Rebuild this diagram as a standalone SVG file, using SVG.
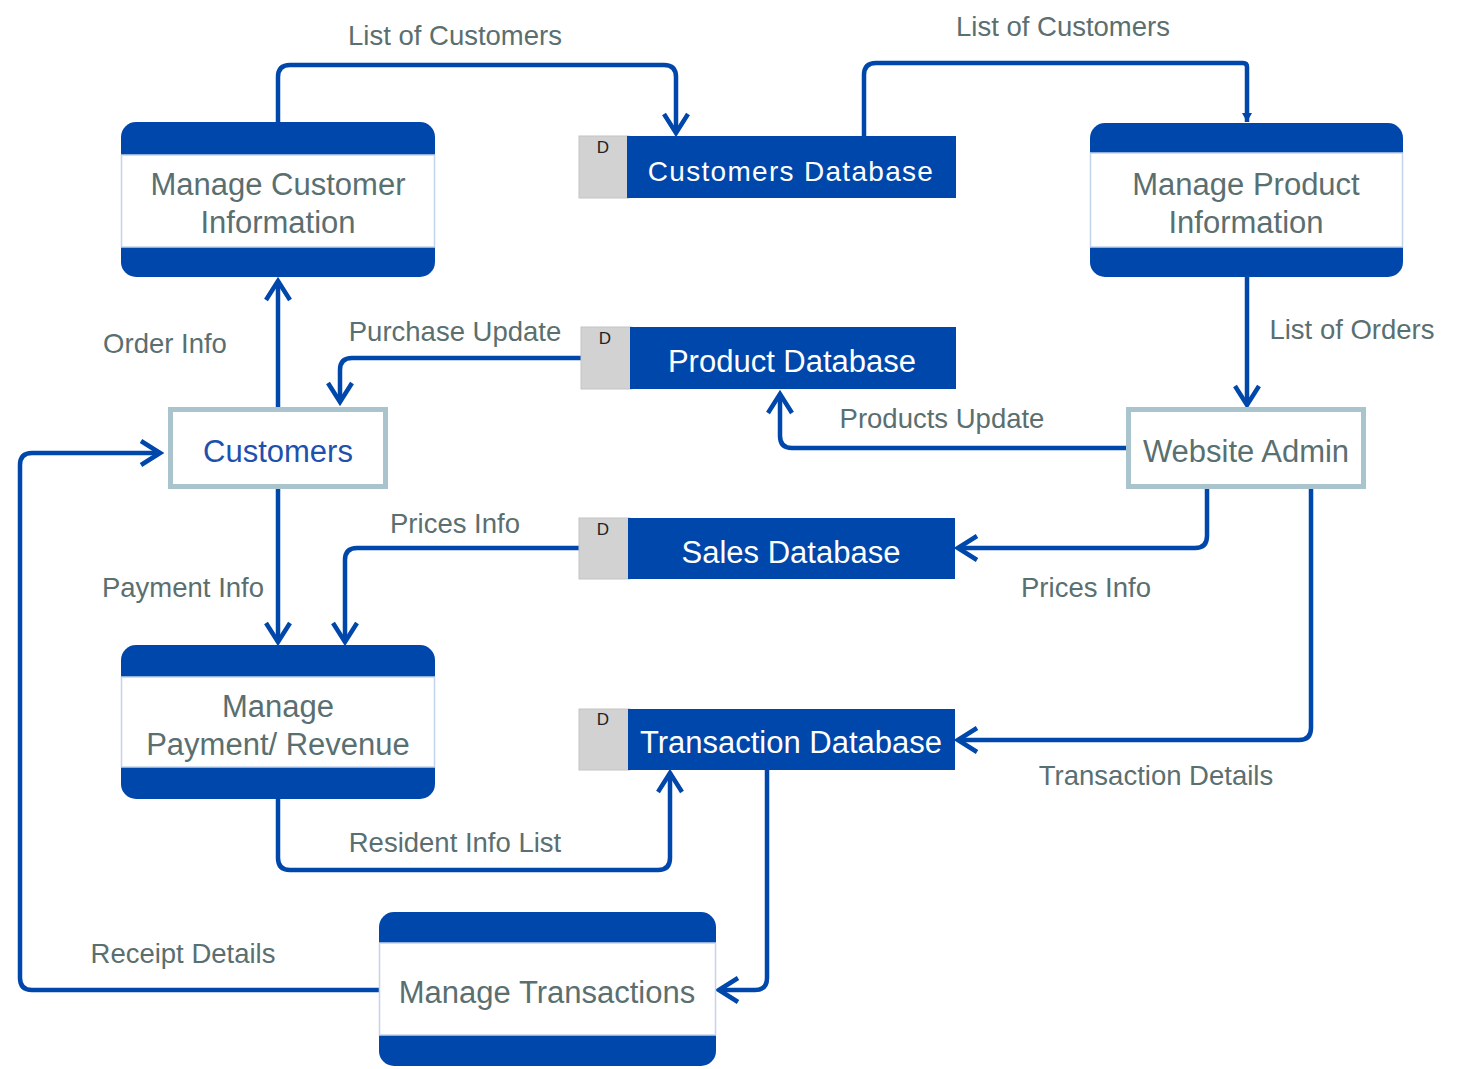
<svg xmlns="http://www.w3.org/2000/svg" width="1484" height="1069" viewBox="0 0 1484 1069">
<defs>
<style>
.band{fill:#0047ab}
.mid{fill:#ffffff;stroke:#c4d4ec;stroke-width:1.5}
.ptxt{font-family:"Liberation Sans",Arial,sans-serif;font-size:31px;fill:#5a6f70;text-anchor:middle}
.lbl{font-family:"Liberation Sans",Arial,sans-serif;font-size:27.5px;fill:#5a6f70;text-anchor:middle}
.ent{fill:#ffffff;stroke:#a9c4cd;stroke-width:5}
.dsg{fill:#d2d2d2;stroke:#c4c4c4;stroke-width:1}
.dsb{fill:#0047ab}
.dsd{font-family:"Liberation Sans",Arial,sans-serif;font-size:17px;fill:#222;text-anchor:middle}
.dst{font-family:"Liberation Sans",Arial,sans-serif;font-size:31px;fill:#ffffff;text-anchor:middle}
.con{fill:none;stroke:#0047ab;stroke-width:4.5;stroke-linejoin:round}
</style>
<marker id="arr" markerUnits="userSpaceOnUse" viewBox="-24 -16 28 32" refX="0" refY="0" markerWidth="28" markerHeight="32" orient="auto">
<path d="M-19,-12 L0,0 L-19,12" fill="none" stroke="#0047ab" stroke-width="4.5" stroke-linejoin="miter"/>
</marker>
<marker id="arrs" markerUnits="userSpaceOnUse" viewBox="-12 -8 14 16" refX="0" refY="0" markerWidth="14" markerHeight="16" orient="auto">
<path d="M-9,-5 L0,0 L-9,5 Z" fill="#0047ab"/>
</marker>
</defs>
<rect width="1484" height="1069" fill="#ffffff"/>

<g id="connectors">
<path class="con" d="M278,122 V77 Q278,65 290,65 H664 Q676,65 676,77 V133" marker-end="url(#arr)"/>
<path class="con" d="M864,136 V75 Q864,63 876,63 H1243 Q1247,63 1247,67 V122" marker-end="url(#arrs)"/>
<path class="con" d="M1247,277 V405" marker-end="url(#arr)"/>
<path class="con" d="M1126,448 H792 Q780,448 780,436 V394" marker-end="url(#arr)"/>
<path class="con" d="M581,358 H352 Q340,358 340,370 V402" marker-end="url(#arr)"/>
<path class="con" d="M278,407 V281" marker-end="url(#arr)"/>
<path class="con" d="M278,489 V642" marker-end="url(#arr)"/>
<path class="con" d="M579,548 H357 Q345,548 345,560 V642" marker-end="url(#arr)"/>
<path class="con" d="M1207,489 V536 Q1207,548 1195,548 H958" marker-end="url(#arr)"/>
<path class="con" d="M1311,489 V728 Q1311,740 1299,740 H958" marker-end="url(#arr)"/>
<path class="con" d="M278,799 V858 Q278,870 290,870 H658 Q670,870 670,858 V773" marker-end="url(#arr)"/>
<path class="con" d="M767,770 V978 Q767,990 755,990 H719" marker-end="url(#arr)"/>
<path class="con" d="M379,990 H32 Q20,990 20,978 V465 Q20,453 32,453 H160" marker-end="url(#arr)"/>
<text class="lbl" x="455" y="45">List of Customers</text>
<text class="lbl" x="1063" y="36">List of Customers</text>
<text class="lbl" x="1352" y="339">List of Orders</text>
<text class="lbl" x="942" y="428">Products Update</text>
<text class="lbl" x="455" y="341">Purchase Update</text>
<text class="lbl" x="165" y="353">Order Info</text>
<text class="lbl" x="183" y="597">Payment Info</text>
<text class="lbl" x="455" y="533">Prices Info</text>
<text class="lbl" x="1086" y="597">Prices Info</text>
<text class="lbl" x="1156" y="785">Transaction Details</text>
<text class="lbl" x="455" y="852">Resident Info List</text>
<text class="lbl" x="183" y="963">Receipt Details</text>
</g>

<g id="manage-customer-information">
<rect class="band" x="121" y="122" width="314" height="155" rx="15"/>
<rect class="mid" x="121.5" y="155" width="313" height="92"/>
<text class="ptxt" x="278" y="195">Manage Customer</text>
<text class="ptxt" x="278" y="233">Information</text>
</g>

<g id="manage-product-information">
<rect class="band" x="1090" y="123" width="313" height="154" rx="15"/>
<rect class="mid" x="1090.5" y="153" width="312" height="94"/>
<text class="ptxt" x="1246" y="195">Manage Product</text>
<text class="ptxt" x="1246" y="233">Information</text>
</g>

<g id="manage-payment-revenue">
<rect class="band" x="121" y="645" width="314" height="154" rx="15"/>
<rect class="mid" x="121.5" y="677" width="313" height="90"/>
<text class="ptxt" x="278" y="717">Manage</text>
<text class="ptxt" x="278" y="755">Payment/ Revenue</text>
</g>

<g id="manage-transactions">
<rect class="band" x="379" y="912" width="337" height="154" rx="15"/>
<rect class="mid" x="379.5" y="943" width="336" height="92"/>
<text class="ptxt" x="547" y="1003">Manage Transactions</text>
</g>

<g id="customers">
<rect class="ent" x="170.5" y="409.5" width="215" height="77"/>
<text class="ptxt" x="278" y="462" style="fill:#1f50ae">Customers</text>
</g>

<g id="website-admin">
<rect class="ent" x="1128.5" y="409.5" width="235" height="77"/>
<text class="ptxt" x="1246" y="462">Website Admin</text>
</g>

<g id="customers-database">
<rect class="dsg" x="579" y="136" width="50" height="62"/>
<rect class="dsb" x="627" y="136" width="329" height="62"/>
<text class="dsd" x="603" y="153">D</text>
<text class="dst" x="791" y="181" style="letter-spacing:1.3px;font-size:28px">Customers Database</text>
</g>

<g id="product-database">
<rect class="dsg" x="581" y="327" width="51" height="62"/>
<rect class="dsb" x="630" y="327" width="326" height="62"/>
<text class="dsd" x="605" y="344">D</text>
<text class="dst" x="792" y="372">Product Database</text>
</g>

<g id="sales-database">
<rect class="dsg" x="579" y="518" width="51" height="61"/>
<rect class="dsb" x="628" y="518" width="327" height="61"/>
<text class="dsd" x="603" y="535">D</text>
<text class="dst" x="791" y="563">Sales Database</text>
</g>

<g id="transaction-database">
<rect class="dsg" x="579" y="709" width="51" height="61"/>
<rect class="dsb" x="628" y="709" width="327" height="61"/>
<text class="dsd" x="603" y="725">D</text>
<text class="dst" x="791" y="753">Transaction Database</text>
</g>
</svg>
